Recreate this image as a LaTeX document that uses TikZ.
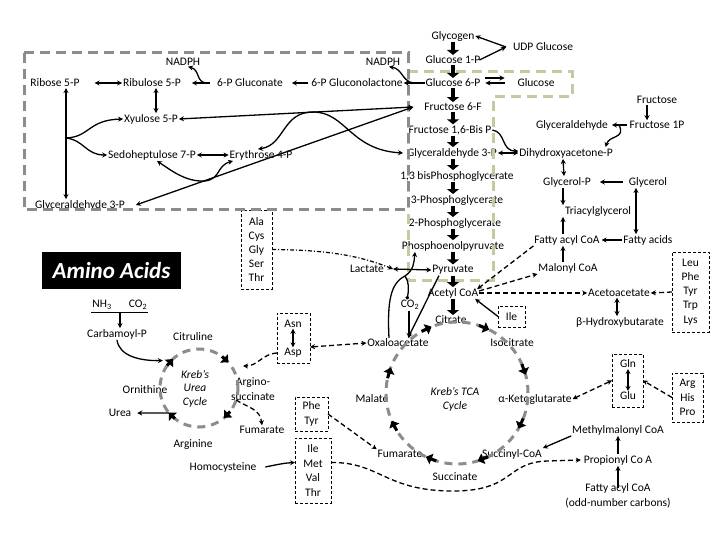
\documentclass[tikz,border=0pt]{standalone}
\usepackage{fontspec}
\setmainfont{Carlito}
\usetikzlibrary{arrows.meta}
\definecolor{cgray}{RGB}{140,140,140}
\definecolor{cbeige}{RGB}{200,200,165}
\begin{document}
\begin{tikzpicture}[x=1pt,y=-1pt,
 every node/.style={inner sep=1pt, outer sep=0pt, font=\fontsize{11.5}{13.5}\selectfont},
 arr/.style={line width=1.3pt, -{Stealth[length=5pt,width=5pt]}},
 darr/.style={line width=1.3pt, {Stealth[length=5pt,width=5pt]}-{Stealth[length=5pt,width=5pt]}},
 dotend/.style={line width=1.3pt, -{Circle[length=3.5pt]}},
 dsh/.style={dash pattern=on 5pt off 3pt},
 dshdot/.style={line width=1.2pt, dash pattern=on 4pt off 2pt on 1pt off 2pt},
 fat/.style={line width=4.5pt, -{Triangle[length=5pt,width=12pt]}},
 cyctip/.style={line width=3pt, -{Triangle[length=6pt,width=11pt]}},
 abox/.style={draw, line width=0.8pt, dash pattern=on 3pt off 2pt, align=center, font=\fontsize{11.5}{14.2}\selectfont},
 gcirc/.style={circle, draw=cgray, line width=3pt, dash pattern=on 8pt off 6pt},
 graybox/.style={draw=cgray, line width=3pt, dash pattern=on 10pt off 6pt},
 beigebox/.style={draw=cbeige, line width=3pt, dash pattern=on 10pt off 6pt},
 itl/.style={align=center, font=\fontsize{11.5}{13.5}\selectfont\itshape}
]
\useasboundingbox (0,0) rectangle (720,540);

% ---------- glycolysis column ----------
\node (gly) at (453,36) {Glycogen};
\node (g1p) at (453,60) {Glucose 1-P};
\node (g6p) at (453,83) {Glucose 6-P};
\node (f6p) at (453,107) {Fructose 6-F};
\node (f16) at (450,130) {Fructose 1,6-Bis P};
\node (g3p) at (452,153) {Glyceraldehyde 3-P};
\node (bpg) at (457,176) {1,3 bisPhosphoglycerate};
\node (pgc3) at (457,200) {3-Phosphoglycerate};
\node (pgc2) at (455,223) {2-Phosphoglycerate};
\node (pep) at (453,246) {Phosphoenolpyruvate};
\node (pyr) at (453,270) {Pyruvate};
\node (acoa) at (453,293) {Acetyl CoA};
\node (cit) at (451,320) {Citrate};
\node (oaa) at (398,343) {Oxaloacetate};
\node (icit) at (512,343) {Isocitrate};
\node (akg) at (535,399) {α-Ketoglutarate};
\node (scoa) at (512,454) {Succinyl-CoA};
\node (succ) at (455,477) {Succinate};
\node (fum) at (400,454) {Fumarate};
\node (mal) at (372,399) {Malate};
\node[itl] (tcatxt) at (455,399.5) {Kreb’s TCA\\Cycle};

% ---------- pentose phosphate ----------
\node (nadph1) at (183,62) {NADPH};
\node (rib) at (55,83) {Ribose 5-P};
\node (ribu) at (152,83) {Ribulose 5-P};
\node (pglu) at (250,83) {6-P Gluconate};
\node (pglc) at (357,83) {6-P Gluconolactone};
\node (nadph2) at (383,62) {NADPH};
\node (xyl) at (151,119) {Xyulose 5-P};
\node (sed) at (152,155) {Sedoheptulose 7-P};
\node (ery) at (261,155) {Erythrose 4-P};
\node (g3pl) at (80,205) {Glyceraldehyde 3-P};

% ---------- right side ----------
\node (udp) at (543,47) {UDP Glucose};
\node (glc) at (536,83) {Glucose};
\node (fru) at (657,100) {Fructose};
\node (fru1p) at (657,125) {Fructose 1P};
\node (glyald) at (572,125) {Glyceraldehyde};
\node (dhap) at (566,153) {Dihydroxyacetone-P};
\node (glyp) at (567,182) {Glycerol-P};
\node (glyc) at (648,182) {Glycerol};
\node (tag) at (598,211) {Triacylglycerol};
\node (faco) at (567,240) {Fatty acyl CoA};
\node (fa) at (648,240) {Fatty acids};
\node (malc) at (568,268) {Malonyl CoA};
\node (aca) at (619,293) {Acetoacetate};
\node (bhb) at (620,322) {β-Hydroxybutarate};
\node (lac) at (367,269) {Lactate};
\node (co2) at (410,305) {CO\textsubscript{2}};
\node (mmc) at (618,430) {Methylmalonyl CoA};
\node (prc) at (618,460) {Propionyl Co A};
\node (fac2) at (618,488) {Fatty acyl CoA};
\node (odd) at (618,503) {(odd-number carbons)};

% ---------- amino acid boxes ----------
\node[abox, minimum width=37pt, minimum height=80pt] (leubox) at (690.5,292) {Leu\\Phe\\Tyr\\Trp\\Lys};
\node[abox, minimum width=31pt, minimum height=79pt, font=\fontsize{11.5}{14}\selectfont] (alabox) at (256.5,249.5) {Ala\\Cys\\Gly\\Ser\\Thr};
\node[abox, minimum width=33pt, minimum height=34pt] (ptbox) at (311.5,414) {Phe\\Tyr};
\node[abox, minimum width=36pt, minimum height=65pt, font=\fontsize{11.5}{14.7}\selectfont] (imvtbox) at (313,470.5) {Ile\\Met\\Val\\Thr};
\node[abox, minimum width=31pt, minimum height=49pt] (ahpbox) at (687.5,397.5) {Arg\\His\\Pro};
\node[abox, minimum width=27pt, minimum height=21pt] (ilebox) at (511.5,316.5) {Ile};
\node[abox, minimum width=33pt, minimum height=50pt] (aspbox) at (293.5,338) {};
\node (asn) at (293,324) {Asn};
\node (asp) at (293,353) {Asp};
\node[abox, minimum width=31pt, minimum height=53pt] (glubox) at (627.5,380.5) {};
\node (gln) at (628,364) {Gln};
\node (glu) at (628,396) {Glu};

% ---------- urea cycle ----------
\node[fill=black, text=white, inner sep=0pt, minimum width=139pt, minimum height=37pt,
      font=\fontsize{23}{26}\selectfont\bfseries\itshape] (aa) at (111.5,270.5) {Amino Acids};
\node (nh3) at (102,305) {NH\textsubscript{3}};
\node (co2u) at (138,305) {CO\textsubscript{2}};
\coordinate (jn) at (120,312);
\node (carb) at (117,334) {Carbamoyl-P};
\node (citr) at (193,337) {Citruline};
\node (orn) at (145,390) {Ornithine};
\node (urea) at (120,413) {Urea};
\node[itl] (kuc) at (195,388.5) {Kreb’s\\Urea\\Cycle};
\node[align=center, font=\fontsize{11.5}{15}\selectfont] (asucc) at (253,389.5) {Argino-\\succinate};
\node (fumu) at (262,430) {Fumarate};
\node (argn) at (193,445) {Arginine};
\node (hcy) at (223,467) {Homocysteine};

% ---------- regions and cycles ----------
\draw[beigebox] (408,72) -- (572,72) -- (572,97) -- (493,97) -- (493,280) -- (408,280) -- cycle;
\draw[graybox] (24,53) rectangle (408,210);
\node[gcirc, minimum size=78pt] (ucyc) at (199,388) {};
\node[gcirc, minimum size=142pt] (tcyc) at (457,393) {};
\begin{scope}[shift={(tcyc.center)}, y=1pt]
\foreach \a in {115,67,19,-26,-69,-112,-153,163}
  \draw[cyctip] ({\a+5}:71) -- ({\a-4}:71);
\end{scope}
\begin{scope}[shift={(ucyc.center)}, y=1pt]
\foreach \a in {138,47,-44,-135}
  \draw[cyctip] ({\a+7}:39) -- ({\a-6}:39);
\end{scope}

% ---------- glycolysis connectors ----------
\foreach \p/\q in {gly/g1p, g1p/g6p, g6p/f6p, f6p/f16, f16/g3p, g3p/bpg, bpg/pgc3, pgc3/pgc2, pgc2/pep, pep/pyr, pyr/acoa, acoa/cit}
  \draw[fat] (\p.south -| gly) -- (\q.north -| gly);
\draw[arr] ([xshift=-2pt]g1p.east) -- ([xshift=-6pt]udp.west);
\draw[arr] ([xshift=-6pt]udp.west) -- (gly.east);
\draw[arr] ([xshift=4pt,yshift=5pt]g6p.east) -- ([xshift=-12pt,yshift=5pt]glc.west);
\draw[arr] ([xshift=-12pt]glc.west) -- ([xshift=4pt]g6p.east);

% ---------- pentose connectors ----------
\draw[darr] ([xshift=14pt]rib.east) -- (ribu.west);
\draw[arr] ([xshift=-6pt]pglu.west) -- ([xshift=10pt]ribu.east);
\coordinate (jp1) at (206,83);
\draw[arr] (jp1) .. controls (196,82) and (200,70) .. ([xshift=5pt]nadph1.south);
\draw[arr] ([xshift=-2pt]pglc.west) -- ([xshift=8pt]pglu.east);
\draw[arr] (g6p.west) -- (pglc.east);
\coordinate (jp2) at (414,83);
\draw[arr] (jp2) .. controls (402,82) and (403,69) .. ([xshift=6pt]nadph2.south);
\draw[darr] ([xshift=4pt]ribu.south) -- ([xshift=5pt]xyl.north);
\coordinate (jr) at (66,138);
\draw[darr] ([xshift=11pt]rib.south) -- ([xshift=-14pt]g3pl.north);
\draw[arr] (jr) .. controls (90,137) and (88,120) .. (xyl.west);
\draw[arr] (jr) .. controls (84,140) and (86,155) .. (sed.west);
\draw[darr] (sed.east) -- (ery.west);
\draw[darr] (xyl.east) -- ([xshift=-10pt]f6p.west);
\draw[darr] ([xshift=10pt]g3pl.east) -- ([xshift=-10pt]f6p.west);
\draw[darr] ([xshift=-3pt]ery.north) .. controls (285,145) and (282,112) .. (313,112) .. controls (346,112) and (350,150) .. ([xshift=-3pt]g3p.west);
\draw[darr] ([xshift=5pt]sed.south) .. controls (172,171) and (186,182) .. (205,181) .. controls (221,179) and (216,166) .. ([xshift=-28pt]ery.south);

% ---------- fructose / glycerol / lipids ----------
\draw[arr] ([xshift=-10pt]fru.south) -- ([xshift=-10pt]fru1p.north);
\draw[arr] ([xshift=-2pt]fru1p.west) -- ([xshift=3pt]glyald.east);
\coordinate (jf) at (619,125);
\draw[arr] (jf) .. controls (626,139) and (609,135) .. ([xshift=-8pt]dhap.north east);
\draw[darr] (g3p.east) -- (dhap.west);
\draw[arr] (f16.east) .. controls (506,132) and (501,151) .. ([yshift=2pt]dhap.west);
\draw[darr] ([xshift=-3pt]dhap.south) -- ([xshift=-3pt]glyp.north);
\draw[arr, shorten <=5pt, shorten >=8pt] (glyc.west) -- (glyp.east);
\draw[arr] ([xshift=-4pt]glyp.south) -- ([xshift=-4pt]glyp.south |- tag.north);
\draw[darr] ([xshift=-12pt]glyc.south) -- ([xshift=-12pt]fa.north);
\draw[arr] ([xshift=-4pt]faco.north) -- ([xshift=-4pt]faco.north |- tag.south);
\draw[arr, shorten >=1pt] (fa.west) -- (faco.east);
\draw[arr] ([xshift=-5pt]malc.north) -- ([xshift=-5pt]malc.north |- faco.south);
\draw[arr, dsh] (faco.south west) -- ([xshift=-2pt,yshift=-2pt]acoa.north east);
\draw[arr, dsh] ([yshift=2pt]acoa.east) -- (malc.south west);
\draw[arr, dsh] (acoa.east) -- (aca.west);
\draw[darr] ([xshift=-2pt]aca.south) -- ([xshift=-2pt]aca.south |- bhb.north);
\draw[arr, dsh] (leubox.west) -- (aca.east);
\draw[arr] (ilebox.west) -- ([xshift=-4pt]acoa.south east);

% ---------- pyruvate / oxaloacetate ----------
\coordinate (jl) at (393,269);
\draw[darr] (jl) -- (pyr.west);
\draw[arr, dshdot] (alabox.east) .. controls (330,250) and (360,256) .. (jl);
\coordinate (jo) at (405,276);
\draw[arr] ([xshift=-9pt]oaa.north) .. controls (387,300) and (391,283) .. (jo) .. controls (414,270) and (414,262) .. ([xshift=-38pt]pep.south);
\draw[dotend] (jo) .. controls (409,281) and (409,290) .. ([xshift=-3pt]co2.north);
\draw[arr] ([xshift=-1pt]co2.south) -- ([xshift=-1pt]co2.south |- oaa.north);
\draw[arr] ([xshift=-14pt]pyr.south) -- ([xshift=10pt]oaa.north);
\draw[darr] (asn.south) -- (asp.north);
\draw[darr, dsh] ([yshift=-9pt]aspbox.east) -- (oaa.west);
\coordinate (ua) at (243,366);
\draw[arr, dsh] ([yshift=-15pt]aspbox.west) .. controls (262,354) and (258,366) .. (ua);

% ---------- urea cycle connectors ----------
\draw[line width=0.9pt] (nh3.south west |- jn) -- (co2u.south east |- jn);
\draw[arr] (jn) -- (jn |- carb.north);
\draw[arr] (carb.south) .. controls (119,356) and (140,361) .. ([shift={(-5pt,4pt)}]ucyc.143);
\draw[arr, shorten >=5pt] (ucyc.-140) -- (urea.east);
\draw[arr, dsh] (ucyc.-18) .. controls (249,408) and (260,409) .. (fumu.north);
\draw[arr] ([xshift=8pt]hcy.east) .. controls (280,464) and (285,463) .. ([yshift=8pt]imvtbox.west);
\draw[arr, dsh] (ptbox.east) -- (fum.north west);
\draw[arr, dsh] ([yshift=8pt]imvtbox.east) .. controls (380,462) and (385,491) .. (453,491) .. controls (515,491) and (505,462) .. (548,461) -- ([xshift=-2pt]prc.west);

% ---------- propionate / glutamate ----------
\draw[arr] (prc.north) -- (mmc.south);
\draw[arr] (fac2.center) -- (prc.south);
\draw[arr] (mmc.south west) -- (scoa.north east);
\draw[darr, dsh] (akg.east) -- (glubox.west);
\draw[arr, dsh] (ahpbox.west) -- (glubox.east);
\draw[darr] (gln.south) -- (glu.north);
\end{tikzpicture}
\end{document}
